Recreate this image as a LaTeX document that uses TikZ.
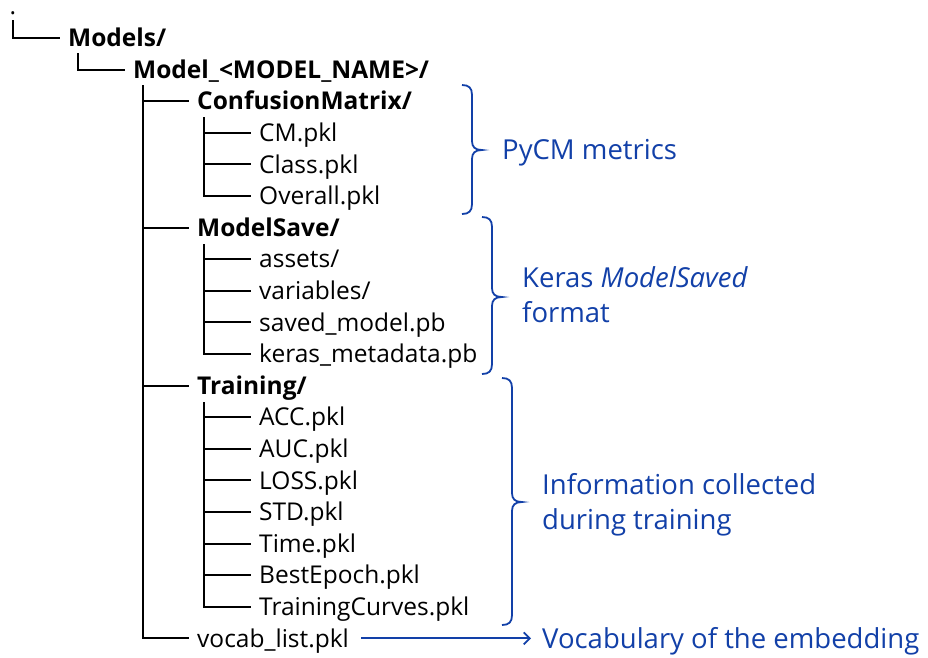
\documentclass[tikz,border=0pt]{standalone}
\usepackage{fontspec}
\setmainfont{Open Sans}
\usetikzlibrary{arrows.meta}
\definecolor{noteblue}{RGB}{18,64,168}
\tikzset{
  entry/.style={anchor=west, inner xsep=8pt, inner ysep=0pt, text height=22pt, text depth=4.5pt,
     font=\fontsize{24.5}{29}\selectfont},
  direntry/.style={entry, font=\fontsize{24.5}{29}\selectfont\bfseries},
  treeline/.style={line width=1.9pt, black},
  bracel/.style={line width=1.8pt, noteblue},
  note/.style={anchor=west, inner sep=0pt, text height=24pt, text depth=4.4pt, text=noteblue,
     font=\fontsize{27.5}{33}\selectfont, align=left},
}
\begin{document}
\begin{tikzpicture}[x=1pt,y=-1pt]
\useasboundingbox (0,0) rectangle (928,657);
% root
\node[anchor=base, inner sep=0pt, font=\fontsize{24.5}{29}\selectfont] (root) at (13,14) {.};
\node[direntry] (models) at (60,38) {Models/};
\node[direntry] (modelname) at (125,69.6) {Model\_<MODEL\_NAME>/};
% level 2
\node[direntry] (cmdir) at (189,101.2) {ConfusionMatrix/};
\node[entry] (cm) at (251,132.8) {CM.pkl};
\node[entry] (class) at (251,164.4) {Class.pkl};
\node[entry] (overall) at (251,196) {Overall.pkl};
\node[direntry] (msdir) at (189,227.6) {ModelSave/};
\node[entry] (assets) at (251,259.2) {assets/};
\node[entry] (variables) at (251,290.8) {variables/};
\node[entry] (savedmodel) at (251,322.4) {saved\_model.pb};
\node[entry] (kerasmeta) at (251,354) {keras\_metadata.pb};
\node[direntry] (trdir) at (189,385.6) {Training/};
\node[entry] (acc) at (251,417.2) {ACC.pkl};
\node[entry] (auc) at (251,448.8) {AUC.pkl};
\node[entry] (loss) at (251,480.4) {LOSS.pkl};
\node[entry] (std) at (251,512) {STD.pkl};
\node[entry] (time) at (251,543.6) {Time.pkl};
\node[entry] (bestepoch) at (251,575.2) {BestEpoch.pkl};
\node[entry] (curves) at (251,606.8) {TrainingCurves.pkl};
\node[entry] (vocab) at (189,638.4) {vocab\_list.pkl};
% vertical tops
\coordinate (v0) at (13,20);
\coordinate (v1) at (78,53);
\coordinate (v2) at (143,85);
\coordinate (v3) at (204,117);
\coordinate (v4) at (204,244);
\coordinate (v5) at (204,402);
% tree lines
\draw[treeline] (v0) |- (models.west);
\draw[treeline] (v1) |- (modelname.west);
\foreach \c in {cmdir,msdir,trdir,vocab} \draw[treeline] (v2) |- (\c.west);
\foreach \c in {cm,class,overall} \draw[treeline] (v3) |- (\c.west);
\foreach \c in {assets,variables,savedmodel,kerasmeta} \draw[treeline] (v4) |- (\c.west);
\foreach \c in {acc,auc,loss,std,time,bestepoch,curves} \draw[treeline] (v5) |- (\c.west);
% braces
\draw[bracel] (462,85) .. controls (469,85) and (472,88) .. (472,95) -- (472,141)
   .. controls (472,147) and (475,150) .. (482,150) .. controls (475,150) and (472,153) .. (472,159)
   -- (472,204) .. controls (472,211) and (469,214) .. (462,214);
\draw[bracel] (482,217) .. controls (489,217) and (492,220) .. (492,227) -- (492,288)
   .. controls (492,294) and (495,297) .. (502,297) .. controls (495,297) and (492,300) .. (492,306)
   -- (492,364) .. controls (492,371) and (489,374) .. (482,374);
\draw[bracel] (502,378) .. controls (509,378) and (512,381) .. (512,388) -- (512,493)
   .. controls (512,499) and (515,502) .. (522,502) .. controls (515,502) and (512,505) .. (512,511)
   -- (512,615) .. controls (512,622) and (509,625) .. (502,625);
% notes
\node[note] (pycm) at (502,150) {PyCM metrics};
\node[note] (keras1) at (522,278) {Keras \textit{ModelSaved}};
\node[note] (keras2) at (522,313) {format};
\node[note] (info1) at (542,485) {Information collected};
\node[note] (info2) at (542,520) {during training};
\node[note] (vocnote) at (542,638.4) {Vocabulary of the embedding};
\draw[line width=2pt, noteblue, -{Straight Barb[length=6pt,width=12pt,line width=1.8pt]}]
   ([xshift=4pt]vocab.east) -- ([xshift=-11pt]vocnote.west);
\end{tikzpicture}
\end{document}
